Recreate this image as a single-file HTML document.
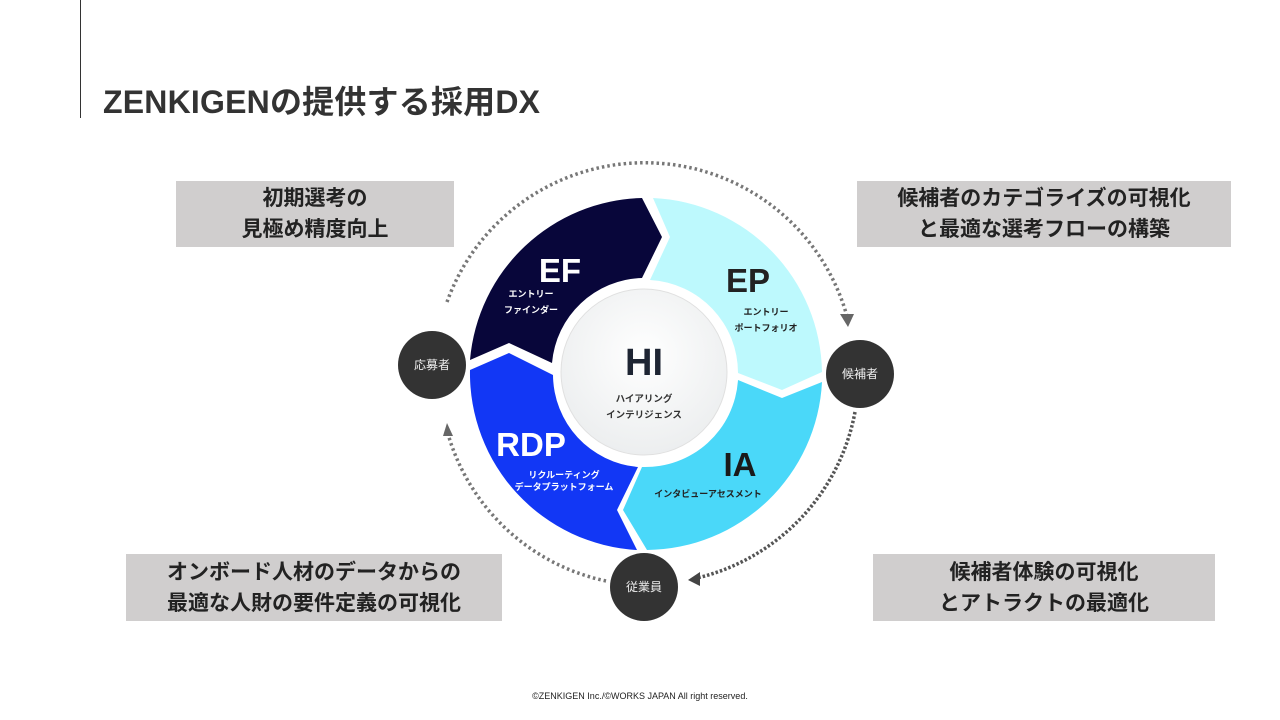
<!DOCTYPE html>
<html><head><meta charset="utf-8"><style>
body{margin:0;width:1280px;height:720px;background:#fff;position:relative;overflow:hidden;font-family:"Liberation Sans","Noto Sans CJK JP",sans-serif;}
.t{position:absolute;left:103px;top:77px;font-size:32px;font-weight:bold;color:#333;white-space:nowrap;letter-spacing:0.2px}
.vl{position:absolute;left:80px;top:0;width:1px;height:118px;background:#333}
.b{position:absolute;background:#d0cece;color:#222;font-weight:bold;font-size:21px;line-height:31px;text-align:center;display:flex;align-items:center;justify-content:center;white-space:nowrap}
.f{position:absolute;top:691px;width:1280px;text-align:center;font-size:9px;color:#222}
</style></head><body>
<div class="vl"></div>
<div class="t">ZENKIGENの提供する採用DX</div>
<div class="b" style="left:176px;top:181px;width:278px;height:66px">初期選考の<br>見極め精度向上</div>
<div class="b" style="left:857px;top:181px;width:374px;height:66px">候補者のカテゴライズの可視化<br>と最適な選考フローの構築</div>
<div class="b" style="left:126px;top:554px;width:376px;height:67px">オンボード人材のデータからの<br>最適な人財の要件定義の可視化</div>
<div class="b" style="left:873px;top:554px;width:342px;height:67px">候補者体験の可視化<br>とアトラクトの最適化</div>
<svg width="1280" height="720" style="position:absolute;left:0;top:0" font-family="Liberation Sans, Noto Sans CJK JP, sans-serif">
<defs>
<radialGradient id="g" cx="50%" cy="40%" r="60%"><stop offset="0" stop-color="#ffffff"/><stop offset="1" stop-color="#eceeef"/></radialGradient>
</defs>
<path d="M447,302 A210,210 0 0 1 848,320" fill="none" stroke="#777" stroke-width="3.5" stroke-dasharray="2.5,3"/>
<polygon points="840,314 854,314 848,327" fill="#666"/>
<path d="M855,412 A210,210 0 0 1 697,578" fill="none" stroke="#555" stroke-width="3.5" stroke-dasharray="2.5,2"/>
<polygon points="688,580 700,572 700,586" fill="#444"/>
<path d="M606,581 A210,210 0 0 1 448,434" fill="none" stroke="#777" stroke-width="3.5" stroke-dasharray="2.5,3"/>
<polygon points="443,436 453,436 447,423" fill="#666"/>
<path d="M470,360 A177,177 0 0 1 642,198 L662,237 L642,278 A93,93 0 0 0 552,363 L509,343 Z" fill="#08063a"/>
<path d="M653,198 A177,177 0 0 1 822,372 L782,390 L738,373 A93,93 0 0 0 650,280 L670,237 Z" fill="#bdf9fd"/>
<path d="M822,382 A177,177 0 0 1 647,550 L623,510 L642,467 A93,93 0 0 0 738,380 L782,398 Z" fill="#4ad8f9"/>
<path d="M637,550 A177,177 0 0 1 470,370 L509,353 L553,375 A93,93 0 0 0 638,467 L617,510 Z" fill="#1237f5"/>
<circle cx="644" cy="372" r="83" fill="url(#g)" stroke="#e0e0e0"/>
<text x="644" y="375" text-anchor="middle" font-size="38" font-weight="bold" fill="#1e2533">HI</text>
<text x="644" y="402" text-anchor="middle" font-size="9.5" font-weight="bold" fill="#333">ハイアリング</text>
<text x="644" y="418" text-anchor="middle" font-size="9.5" font-weight="bold" fill="#333">インテリジェンス</text>
<text x="560" y="282" text-anchor="middle" font-size="33" font-weight="bold" fill="#fff">EF</text>
<text x="531" y="297" text-anchor="middle" font-size="9" font-weight="bold" fill="#fff">エントリー</text>
<text x="531" y="313" text-anchor="middle" font-size="9" font-weight="bold" fill="#fff">ファインダー</text>
<text x="748" y="292" text-anchor="middle" font-size="33" font-weight="bold" fill="#222">EP</text>
<text x="766" y="315" text-anchor="middle" font-size="9" font-weight="bold" fill="#222">エントリー</text>
<text x="766" y="331" text-anchor="middle" font-size="9" font-weight="bold" fill="#222">ポートフォリオ</text>
<text x="531" y="456" text-anchor="middle" font-size="33" font-weight="bold" fill="#fff">RDP</text>
<text x="564" y="478" text-anchor="middle" font-size="9" font-weight="bold" fill="#fff">リクルーティング</text>
<text x="564" y="490" text-anchor="middle" font-size="9" font-weight="bold" fill="#fff">データプラットフォーム</text>
<text x="740" y="476" text-anchor="middle" font-size="33" font-weight="bold" fill="#1a1a1a">IA</text>
<text x="708" y="497" text-anchor="middle" font-size="9" font-weight="bold" fill="#222">インタビューアセスメント</text>
<circle cx="432" cy="365" r="34" fill="#333"/>
<text x="432" y="369" text-anchor="middle" font-size="12" fill="#eee">応募者</text>
<circle cx="860" cy="374" r="34" fill="#333"/>
<text x="860" y="378" text-anchor="middle" font-size="12" fill="#eee">候補者</text>
<circle cx="644" cy="587" r="34" fill="#333"/>
<text x="644" y="591" text-anchor="middle" font-size="12" fill="#eee">従業員</text>
</svg>
<div class="f">©ZENKIGEN Inc./©WORKS JAPAN All right reserved.</div>
</body></html>
